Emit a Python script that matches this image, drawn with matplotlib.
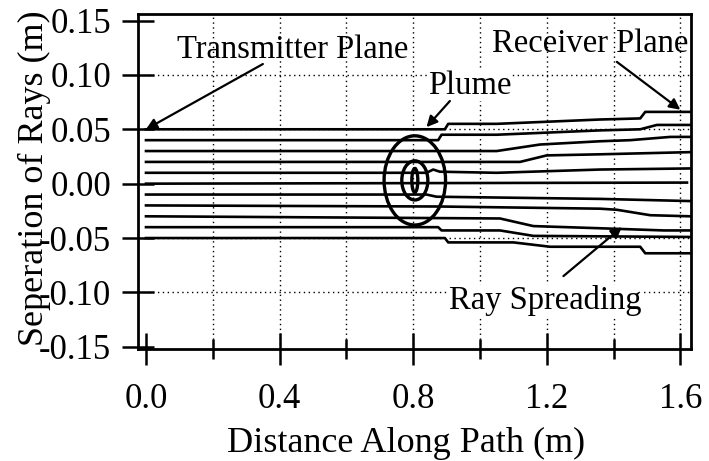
import numpy as np
import matplotlib
matplotlib.use('Agg')
import matplotlib.pyplot as plt
from matplotlib.patches import Ellipse

plt.rcParams['font.family'] = ['Liberation Serif', 'DejaVu Serif']
plt.rcParams['axes.unicode_minus'] = False

# ray paths (distance along path, separation) in m
ray_x = [
    [0.0, 0.895, 0.905, 1.05, 1.36, 1.48, 1.495, 1.63],
    [0.0, 0.875, 0.885, 1.05, 1.36, 1.48, 1.53, 1.63],
    [0.0, 1.05, 1.18, 1.36, 1.45, 1.57, 1.63],
    [0.0, 1.12, 1.20, 1.36, 1.63],
    [0.0, 0.84, 0.86, 0.88, 1.05, 1.36, 1.63],
    [0.0, 1.62],
    [0.0, 0.84, 0.87, 1.36, 1.63],
    [0.0, 0.88, 1.36, 1.41, 1.51, 1.63],
    [0.0, 1.06, 1.16, 1.36, 1.55, 1.63],
    [0.0, 0.875, 0.885, 1.06, 1.16, 1.63],
    [0.0, 0.895, 0.905, 1.10, 1.21, 1.48, 1.495, 1.63],
]
ray_y = [
    [0.050, 0.050, 0.055, 0.055, 0.059, 0.060, 0.066, 0.066],
    [0.040, 0.040, 0.045, 0.045, 0.049, 0.050, 0.054, 0.054],
    [0.030, 0.030, 0.036, 0.039, 0.040, 0.043, 0.043],
    [0.020, 0.020, 0.026, 0.027, 0.029],
    [0.010, 0.010, 0.013, 0.011, 0.010, 0.013, 0.014],
    [0.000, 0.001],
    [-0.010, -0.010, -0.012, -0.014, -0.016],
    [-0.020, -0.021, -0.023, -0.024, -0.029, -0.030],
    [-0.030, -0.032, -0.039, -0.041, -0.043, -0.043],
    [-0.040, -0.040, -0.043, -0.043, -0.048, -0.049],
    [-0.050, -0.050, -0.054, -0.054, -0.058, -0.058, -0.064, -0.064],
]

# plume contours (centre, full widths and heights)
plume_x = 0.805
plume_y = 0.003
plume_w = [0.184, 0.078, 0.018]
plume_h = [0.082, 0.036, 0.022]

x_major = [0.0, 0.4, 0.8, 1.2, 1.6]
x_minor = [0.2, 0.6, 1.0, 1.4]
y_ticks = [-0.15, -0.10, -0.05, 0.00, 0.05, 0.10, 0.15]
x_grid = [0.2, 0.4, 0.6, 0.8, 1.0, 1.2, 1.4, 1.6]
y_grid = [-0.10, -0.05, 0.05, 0.10]

fig = plt.figure(figsize=(7.09, 4.61), dpi=100)
ax = fig.add_axes([0.1946, 0.243, 0.780, 0.7266])

for g in x_grid:
    ax.axvline(g, color='k', lw=1.0, ls=(0, (1, 2.5)), zorder=1)
for g in y_grid:
    ax.axhline(g, color='k', lw=1.0, ls=(0, (1, 2.5)), zorder=1)

for xs, ys in zip(ray_x, ray_y):
    ax.plot(xs, ys, color='k', lw=1.9, zorder=3)

for w, h in zip(plume_w, plume_h):
    ax.add_patch(Ellipse((plume_x, plume_y), w, h, fill=False,
                         ec='k', lw=2.4, zorder=4))

ax.set_xlim(-0.024, 1.632)
ax.set_ylim(-0.152, 0.156)
ax.set_xticks(x_major)
ax.set_xticks(x_minor, minor=True)
ax.set_xticklabels(['%.1f' % v for v in x_major])
ax.set_yticks(y_ticks)
ax.set_yticklabels(['%.2f' % v for v in y_ticks])

for s in ax.spines.values():
    s.set_linewidth(2)
ax.tick_params(axis='both', which='major', direction='inout', length=23,
               width=1.8, labelsize=25)
ax.tick_params(axis='x', which='major', pad=13)
ax.tick_params(axis='y', which='major', pad=8)
ax.tick_params(axis='x', which='minor', direction='inout', length=15, width=1.8)

ax.set_xlabel('Distance Along Path (m)', fontsize=26)
ax.xaxis.set_label_coords(0.485, -0.232)
ax.set_ylabel('Seperation of Rays (m)', fontsize=26)
ax.yaxis.set_label_coords(-0.158, 0.51)

arrow = dict(arrowstyle='-|>', mutation_scale=16, lw=1.6, color='k',
             shrinkA=0, shrinkB=0)
ax.text(0.44, 0.116, 'Transmitter Plane', fontsize=23.5, ha='center', va='baseline')
ax.annotate('', xy=(0.0, 0.05), xytext=(0.35, 0.110), arrowprops=arrow)
ax.text(1.33, 0.121, 'Receiver Plane', fontsize=23.5, ha='center', va='baseline')
ax.annotate('', xy=(1.60, 0.068), xytext=(1.41, 0.112), arrowprops=arrow)
ax.text(0.97, 0.082, 'Plume', fontsize=23.5, ha='center', va='baseline',
        bbox=dict(fc='white', ec='none', pad=0))
ax.annotate('', xy=(0.84, 0.052), xytext=(0.91, 0.076), arrowprops=arrow)
ax.text(1.195, -0.115, 'Ray Spreading', fontsize=23.5, ha='center', va='baseline',
        bbox=dict(fc='white', ec='none', pad=0))
ax.annotate('', xy=(1.425, -0.040), xytext=(1.25, -0.085), arrowprops=arrow)

fig.savefig('out.png', dpi=100)
